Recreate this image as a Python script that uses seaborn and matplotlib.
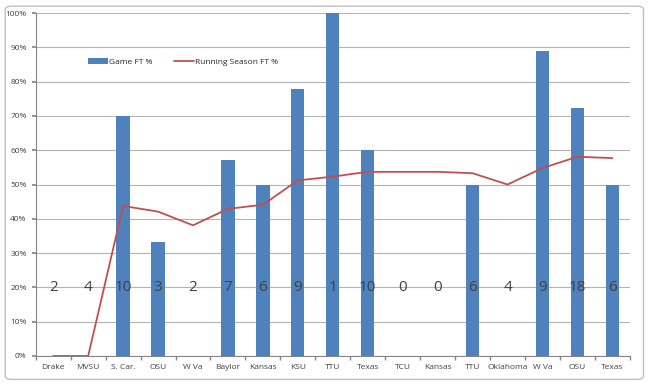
import matplotlib
matplotlib.use("Agg")
import matplotlib.pyplot as plt
import seaborn as sns
import numpy as np
from matplotlib.patches import FancyBboxPatch
from matplotlib.ticker import PercentFormatter, FixedLocator

opponents = ["Drake", "MVSU", "S. Car.", "OSU", "W Va", "Baylor", "Kansas", "KSU", "TTU",
             "Texas", "TCU", "Kansas", "TTU", "Oklahoma", "W Va", "OSU", "Texas"]
game_ft = [0, 0, 70, 33.3, 0, 57.1, 50, 77.8, 100, 60, 0, 0, 50, 0, 88.9, 72.2, 50]
season_ft = [0, 0, 43.75, 42.1, 38.1, 42.9, 44.1, 51.2, 52.3, 53.7, 53.7, 53.7, 53.3, 50.0, 54.8, 58.1, 57.7]
attempts = [2, 4, 10, 3, 2, 7, 6, 9, 1, 10, 0, 0, 6, 4, 9, 18, 6]

sns.set_theme(style="white")
plt.rcParams['font.family'] = ['Open Sans', 'DejaVu Sans']

fig = plt.figure(figsize=(6.5, 3.84), dpi=100)
ax = fig.add_axes([0.055, 0.073, 0.914, 0.893])

idx = list(range(len(opponents)))
sns.barplot(x=idx, y=game_ft, color="#4F81BD", width=0.38, saturation=1, ax=ax,
            label="Game FT %", linewidth=0, zorder=2)
sns.lineplot(x=idx, y=season_ft, color="#C0504D", linewidth=1.3, ax=ax,
             label="Running Season FT %", zorder=3)

for i, a in enumerate(attempts):
    ax.text(i, 20, str(a), ha="center", va="center", fontsize=11, color="#404040", zorder=4)

ax.set_ylim(0, 100)
ax.set_xlim(-0.5, len(opponents) - 0.5)
ax.set_yticks(np.arange(0, 101, 10))
ax.yaxis.set_major_formatter(PercentFormatter(decimals=0))
ax.set_xticks(idx)
ax.set_xticklabels(opponents)
ax.xaxis.set_minor_locator(FixedLocator(np.arange(-0.5, len(opponents), 1)))
ax.tick_params(axis="x", which="major", length=0, labelsize=6, pad=6, colors="#404040")
ax.tick_params(axis="x", which="minor", length=3, color="#868686", direction="out", bottom=True)
ax.tick_params(axis="y", which="major", length=3, color="#868686", direction="out", left=True,
               labelsize=6, colors="#404040")
ax.grid(axis="y", color="#B4B4B4", linewidth=0.8, zorder=0)
ax.set_axisbelow(True)
for s in ["top", "right"]:
    ax.spines[s].set_visible(False)
ax.spines["left"].set_color("#868686")
ax.spines["bottom"].set_color("#868686")
ax.spines["left"].set_linewidth(0.8)
ax.spines["bottom"].set_linewidth(0.8)

handles, labels = ax.get_legend_handles_labels()
order = [labels.index("Game FT %"), labels.index("Running Season FT %")]
ax.legend([handles[i] for i in order], [labels[i] for i in order],
          loc="upper left", bbox_to_anchor=(0.075, 0.89), ncol=2, frameon=False, fontsize=6,
          handlelength=2.4, handletextpad=0.1, columnspacing=2.6)

border = FancyBboxPatch((0.008, 0.012), 0.982, 0.972, boxstyle="round,pad=0,rounding_size=0.01",
                        transform=fig.transFigure, fill=False, edgecolor="#BFBFBF", linewidth=1)
fig.patches.append(border)

fig.savefig("out.png", dpi=100)
